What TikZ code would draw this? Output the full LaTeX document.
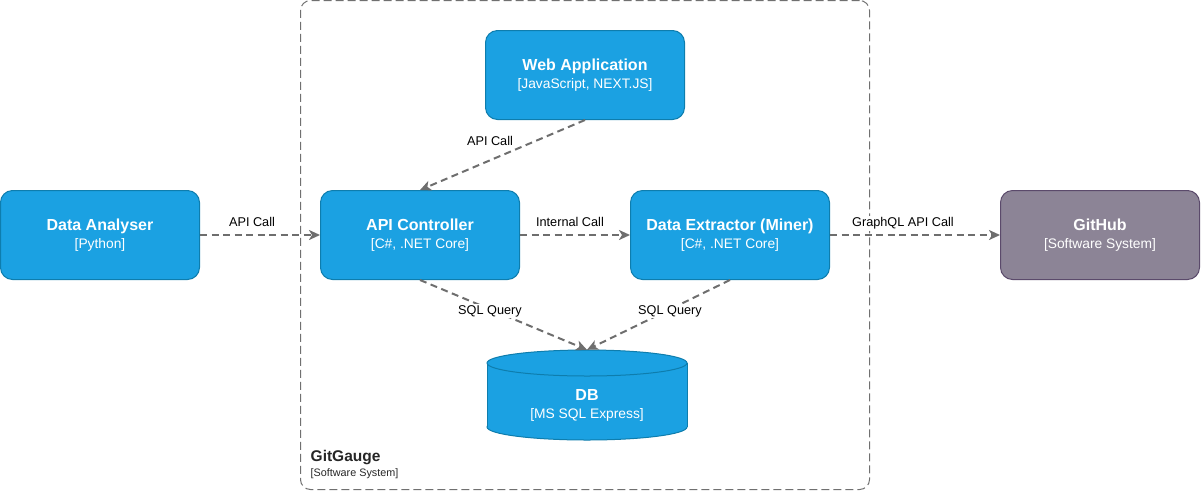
\documentclass[tikz,border=0pt]{standalone}
\usepackage{fontspec}
\setmainfont{Liberation Sans}
\usetikzlibrary{arrows.meta}
\definecolor{cfill}{HTML}{1BA1E2}
\definecolor{cline}{HTML}{0E7DAD}
\definecolor{xfill}{HTML}{8C8496}
\definecolor{xline}{HTML}{5B4A6B}
\definecolor{arrowc}{HTML}{6E6E6E}
\definecolor{bline}{HTML}{707070}
\begin{document}
\begin{tikzpicture}[x=1pt,y=-1pt,
 container/.style={draw=cline,fill=cfill,line width=1pt,rounded corners=12pt,minimum width=199pt,minimum height=89pt,inner sep=0pt},
 extsys/.style={container,draw=xline,fill=xfill},
 boundary/.style={draw=bline,line width=1pt,dash pattern=on 8pt off 4pt,rounded corners=10pt,minimum width=569pt,minimum height=489pt,inner sep=0pt},
 ttl/.style={text=white,font=\bfseries\fontsize{16}{19}\selectfont,anchor=base,inner sep=0pt},
 sub/.style={text=white,font=\fontsize{13.8}{16}\selectfont,anchor=base,inner sep=0pt},
 rel/.style={draw=arrowc,line width=2pt,dash pattern=on 7pt off 4.5pt,-{Stealth[length=11pt,width=10pt,inset=3pt]}},
 lbl/.style={font=\fontsize{12.7}{15}\selectfont,anchor=base,inner sep=1.5pt,fill=white,text=black},
 bttl/.style={text=black!85,font=\bfseries\fontsize{15.5}{18}\selectfont,anchor=base west,inner sep=0pt},
 bsub/.style={text=black!85,font=\fontsize{10.8}{13}\selectfont,anchor=base west,inner sep=0pt}
]
\useasboundingbox (0,0) rectangle (1201,491);

% system boundary
\node[boundary] (gitgauge) at (585,245) {};
\node[bttl] (ggt) at (310.5,461.5) {GitGauge};
\node[bsub] (ggs) at (310.5,476) {[Software System]};

% containers
\node[container] (da) at (100,235) {};
\node[ttl] (dat) at (100,230) {Data Analyser};
\node[sub] (das) at (100,248.5) {[Python]};

\node[container] (web) at (585,75) {};
\node[ttl] (webt) at (585,70) {Web Application};
\node[sub] (webs) at (585,88.5) {[JavaScript, NEXT.JS]};

\node[container] (api) at (420,235) {};
\node[ttl] (apit) at (420,230) {API Controller};
\node[sub] (apis) at (420,248.5) {[C\#, .NET Core]};

\node[container] (ext) at (730,235) {};
\node[ttl] (extt) at (730,230) {Data Extractor (Miner)};
\node[sub] (exts) at (730,248.5) {[C\#, .NET Core]};

\node[extsys] (gh) at (1100,235) {};
\node[ttl] (ght) at (1100,230) {GitHub};
\node[sub] (ghs) at (1100,248.5) {[Software System]};

% database cylinder
\filldraw[draw=cline,fill=cfill,line width=1pt] (587,427) ellipse [x radius=100, y radius=13];
\fill[cfill] (487,363) rectangle (687,427);
\draw[cline,line width=1pt] (487,363) -- (487,427) (687,363) -- (687,427);
\filldraw[draw=cline,fill=cfill,line width=1pt] (587,363) ellipse [x radius=100, y radius=13];
\node[minimum width=200pt,minimum height=90pt,inner sep=0pt] (db) at (587,395) {};
\node[ttl] (dbt) at (587,400) {DB};
\node[sub] (dbs) at (587,418.5) {[MS SQL Express]};

% relations
\draw[rel] (da.east) -- (api.west);
\node[lbl] (l1) at (252,226.5) {API Call};
\draw[rel] (api.east) -- (ext.west);
\node[lbl] (l2) at (570,226.5) {Internal Call};
\draw[rel] (ext.east) -- (gh.west);
\node[lbl] (l3) at (903,226.5) {GraphQL API Call};
\draw[rel] (web.south) -- (api.north);
\node[lbl] (l4) at (490,145) {API Call};
\draw[rel] (api.south) -- (db.north);
\node[lbl] (l5) at (490,314) {SQL Query};
\draw[rel] (ext.south) -- (db.north);
\node[lbl] (l6) at (670,314) {SQL Query};
\end{tikzpicture}
\end{document}
